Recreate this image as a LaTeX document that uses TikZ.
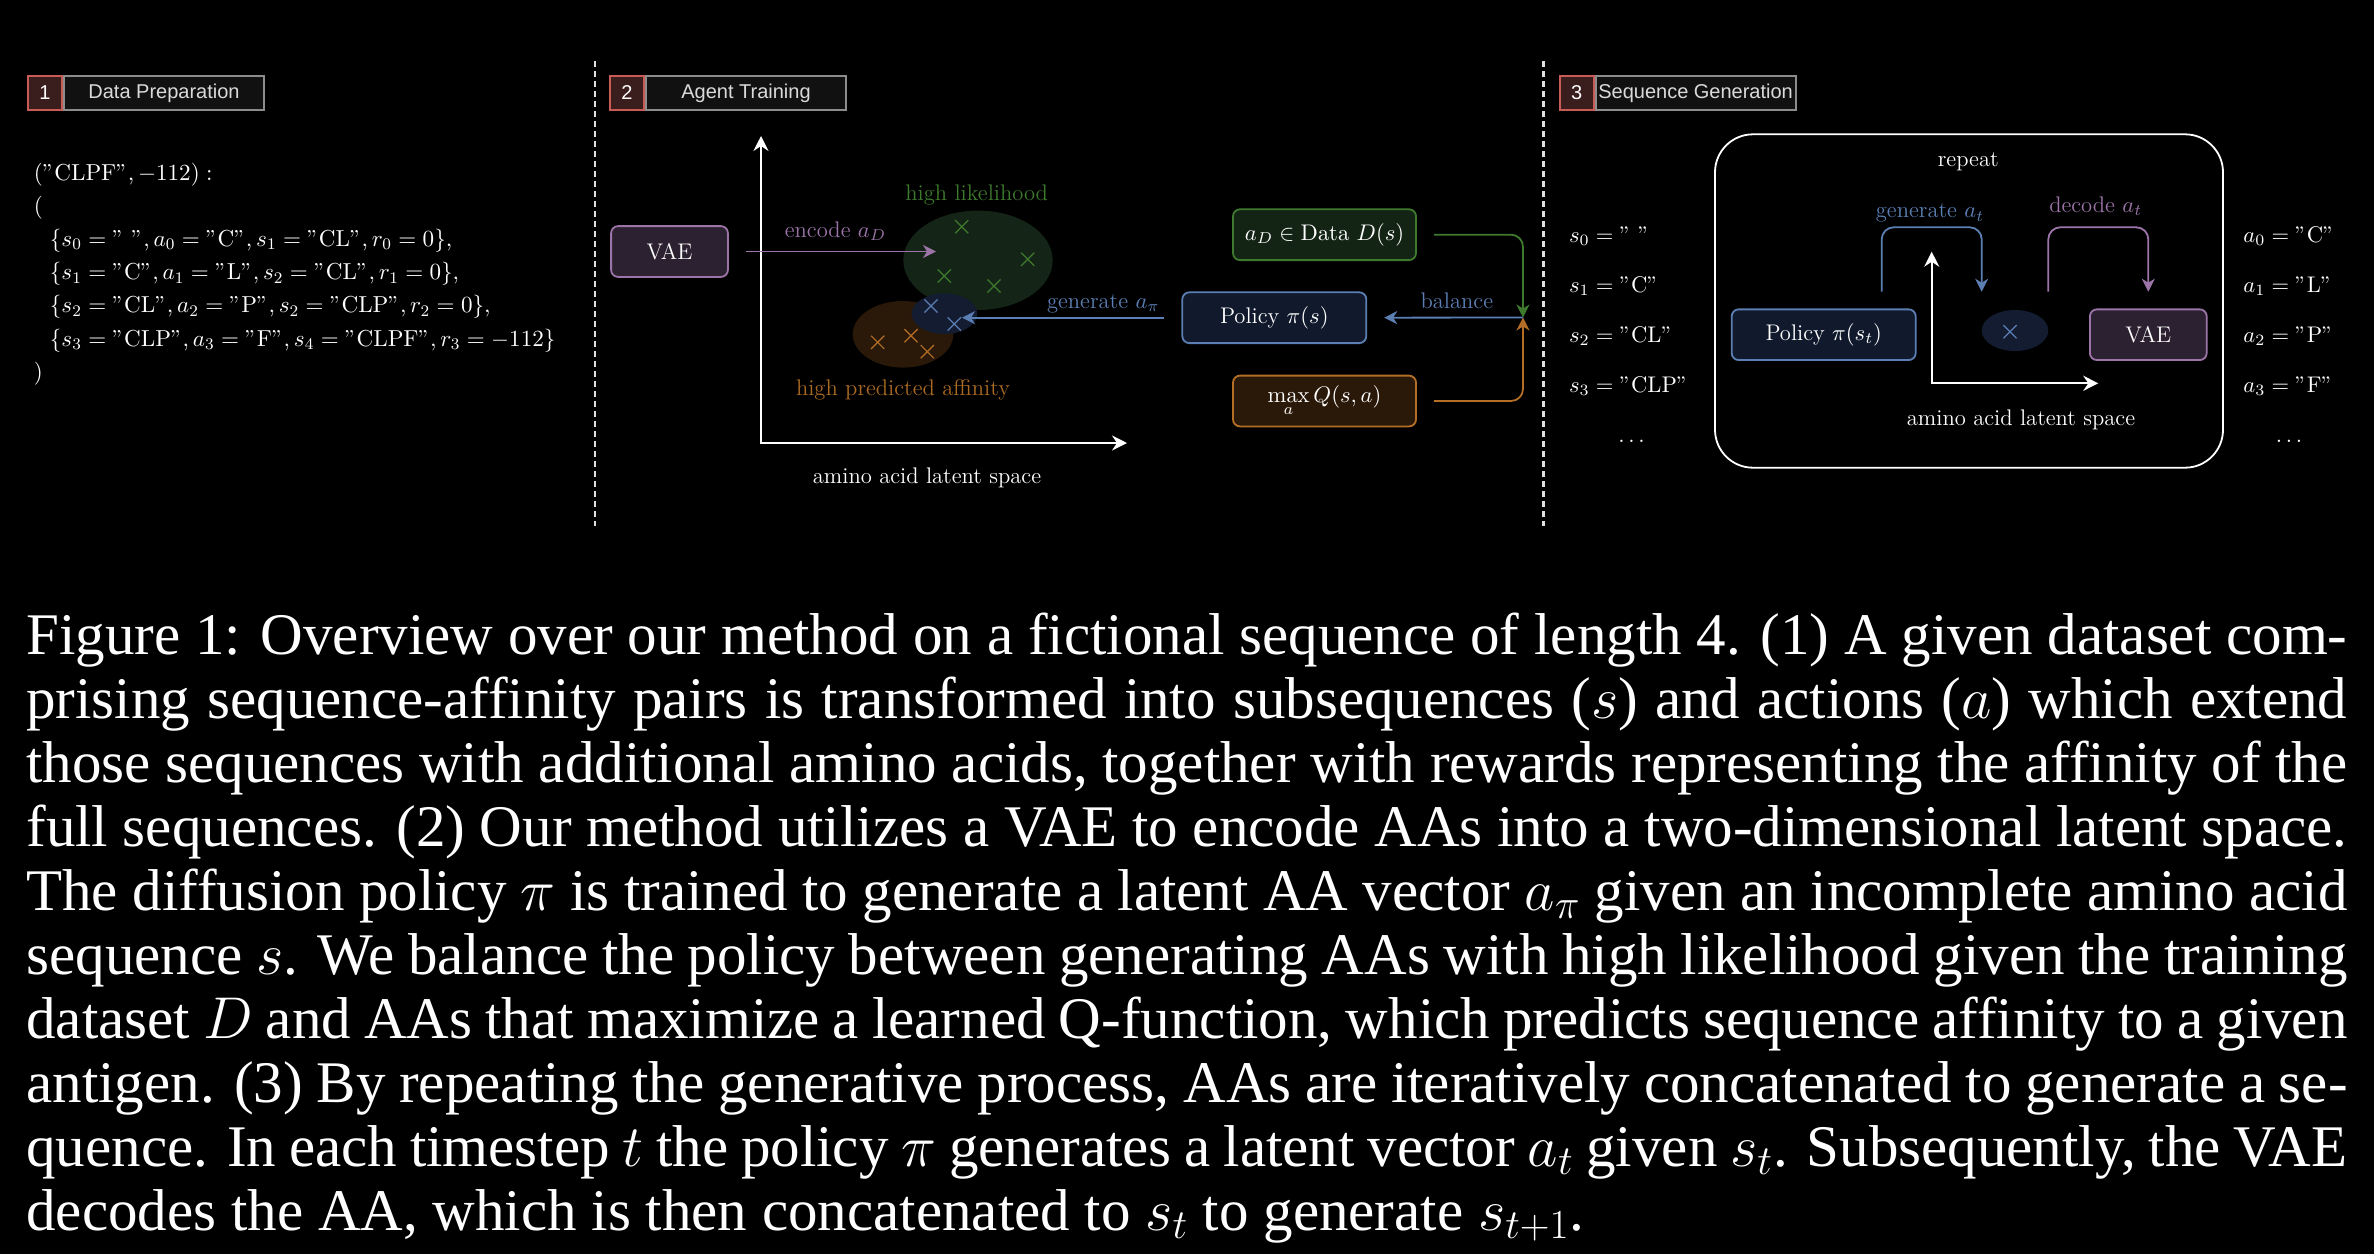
\RequirePackage{fix-cm}
\documentclass[tikz,border=0pt]{standalone}
\usepackage[no-math]{fontspec}
\usepackage{graphicx}
\usetikzlibrary{arrows.meta,shapes.geometric,shapes.misc}
\newfontfamily\hdrfont{Liberation Sans}
\newfontfamily\capfont{Liberation Serif}
\newcommand\dgmfont{\fontsize{11.3}{13.5}\selectfont}
\definecolor{hred}{HTML}{C95B57}
\definecolor{hredfill}{HTML}{3A1D1D}
\definecolor{hgray}{HTML}{8C8C8C}
\definecolor{hgrayfill}{HTML}{111111}
\definecolor{htext}{HTML}{DADADA}
\definecolor{sepc}{HTML}{E0E0E0}
\definecolor{pur}{HTML}{9C74A8}
\definecolor{purfill}{HTML}{2C2131}
\definecolor{grn}{HTML}{3E7A2E}
\definecolor{grnfill}{HTML}{132314}
\definecolor{grnell}{HTML}{142416}
\definecolor{blu}{HTML}{5B7FB3}
\definecolor{blufill}{HTML}{111A2C}
\definecolor{bluell}{HTML}{131C30}
\definecolor{org}{HTML}{B46E26}
\definecolor{orgfill}{HTML}{2A1808}
\definecolor{orgell}{HTML}{2A1909}
\definecolor{orgtext}{HTML}{AA6A22}
\tikzset{
  wtip/.tip={Stealth[length=7.5pt,width=7.5pt,inset=2.5pt]},
  ctip/.tip={Stealth[length=6.5pt,width=6.5pt,inset=2pt]},
  hnum/.style={draw=hred, fill=hredfill, line width=1pt, minimum width=17pt, minimum height=17pt, inner sep=0pt, font=\hdrfont\fontsize{10}{12}\selectfont, text=white},
  hlab/.style={draw=hgray, fill=hgrayfill, line width=1pt, minimum width=100pt, minimum height=17pt, inner sep=0pt, font=\hdrfont\fontsize{10}{12}\selectfont, text=htext},
  sep/.style={draw=sepc, line width=1.1pt, dash pattern=on 3pt off 2pt},
  dbox/.style={rounded corners=3.5pt, line width=0.9pt, inner sep=0pt, font=\dgmfont, text=white, minimum height=25.4pt},
  vaebox/.style={dbox, draw=pur, fill=purfill, minimum width=58.4pt},
  polbox/.style={dbox, draw=blu, fill=blufill, minimum width=92pt},
  datbox/.style={dbox, draw=grn, fill=grnfill, minimum width=91.5pt},
  qbox/.style={dbox, draw=org, fill=orgfill, minimum width=91.5pt},
  lbl/.style={inner sep=0pt, font=\dgmfont, text=white},
  cloud/.style={ellipse, inner sep=0pt, draw=none},
  xmark/.style={cross out, draw=#1, minimum size=6pt, inner sep=0pt, line width=0.6pt},
  axis/.style={draw=white, line width=1pt, wtip-wtip},
  cline/.style={draw=#1, line width=0.9pt, -ctip},
  bigbox/.style={draw=white, line width=0.9pt, rounded corners=19pt, minimum width=254pt, minimum height=166.7pt, inner sep=0pt},
}
\begin{document}
\begin{tikzpicture}[x=0.5pt,y=-0.5pt]
\path[use as bounding box] (0,0) rectangle (2374,1254);
\fill[black] (0,0) rectangle (2374,1254);

% separators
\coordinate (s1t) at (595,61);
\coordinate (s1b) at (595,526);
\coordinate (s2t) at (1543.5,61);
\coordinate (s2b) at (1543.5,526);
\draw[sep] (s1t) -- (s1b);
\draw[sep] (s2t) -- (s2b);

% headers
\node[hlab, anchor=west] (h1) at (63,93) {Data Preparation};
\node[hnum, anchor=east] (n1) at (h1.west) {1};
\node[hlab, anchor=west] (h2) at (645,93) {Agent Training};
\node[hnum, anchor=east] (n2) at (h2.west) {2};
\node[hlab, anchor=west] (h3) at (1594.6,93) {Sequence Generation};
\node[hnum, anchor=east] (n3) at (h3.west) {3};

% section 1
\node[lbl, anchor=base west] (data) at (33.5,180) {\parbox[t]{300pt}{\fontsize{11.55}{16.6}\selectfont
$("\mathrm{CLPF}", -112):$\\
$($\\
\hspace*{8pt}$\{s_0 = "\ ", a_0 = "\mathrm{C}", s_1 = "\mathrm{CL}", r_0 = 0\},$\\
\hspace*{8pt}$\{s_1 = "\mathrm{C}", a_1 = "\mathrm{L}", s_2 = "\mathrm{CL}", r_1 = 0\},$\\
\hspace*{8pt}$\{s_2 = "\mathrm{CL}", a_2 = "\mathrm{P}", s_2 = "\mathrm{CLP}", r_2 = 0\},$\\
\hspace*{8pt}$\{s_3 = "\mathrm{CLP}", a_3 = "\mathrm{F}", s_4 = "\mathrm{CLPF}", r_3 = -112\}$\\
$)$}};

% section 2
\node[cloud, fill=grnell, minimum width=74.7pt, minimum height=49.7pt] (ellG) at (978,260.3) {};
\node[cloud, fill=orgell, minimum width=50.3pt, minimum height=33.3pt] (ellO) at (903,334.3) {};
\node[cloud, fill=bluell, minimum width=32.8pt, minimum height=20.3pt] (ellB) at (944.5,313.7) {};
\node[xmark=grn] (g1) at (961.7,226.7) {};
\node[xmark=grn] (g2) at (1027.7,259.3) {};
\node[xmark=grn] (g3) at (944.3,276) {};
\node[xmark=grn] (g4) at (994,286) {};
\node[xmark=blu] (b1) at (931,306) {};
\node[xmark=blu] (b2) at (954.3,324) {};
\node[xmark=org] (o1) at (877.7,342.3) {};
\node[xmark=org] (o2) at (911,335.7) {};
\node[xmark=org] (o3) at (927.3,351.7) {};
\node[lbl, anchor=base, text=grn] (tG) at (976.7,200.5) {high likelihood};
\node[lbl, anchor=base, text=orgtext] (tO) at (903,395) {high predicted affinity};

\coordinate (ax2y) at (761,136);
\coordinate (ax2o) at (761,443);
\coordinate (ax2x) at (1127,443);
\draw[axis] (ax2y) -- (ax2o) -- (ax2x);
\node[lbl, anchor=base] (lat2) at (927,483) {amino acid latent space};

\node[vaebox] (vae2) at (669.5,251.5) {VAE};
\coordinate (etip) at (936,251.5);
\draw[cline=pur, shorten <=8.5pt] (vae2.east) -- (etip);
\node[lbl, anchor=base, text=pur] (tenc) at (835.5,237.5) {encode $a_D$};

\node[datbox] (dat) at (1324.5,234.7) {$a_D \in \mathrm{Data}\ D(s)$};
\node[polbox] (pol2) at (1274.3,317.7) {Policy $\pi(s)$};
\node[qbox] (mq) at (1324.5,401) {$\max\limits_{a} Q(s,a)$};
\coordinate (J) at (1523,317.5);
\coordinate (gtip) at (962,317.7);
\draw[cline=blu, shorten <=8.5pt] (pol2.west) -- (gtip);
\node[lbl, anchor=base, text=blu] (tgen) at (1103.3,308.3) {generate $a_\pi$};
\draw[cline=grn, rounded corners=6pt, shorten <=8.5pt] (dat.east) -| (J);
\draw[cline=org, rounded corners=6pt, shorten <=8.5pt] (mq.east) -| (J);
\draw[cline=blu, shorten >=8.5pt] (J) -- (pol2.east);
\node[lbl, anchor=base, text=blu] (tbal) at (1456.8,308.3) {balance};

% section 3
\node[bigbox] (rep) at (1969,301) {};
\node[lbl, anchor=base] (trep) at (1968.3,166.7) {repeat};
\node[polbox, minimum height=25.35pt] (pol3) at (1823.7,334.7) {Policy $\pi(s_t)$};
\node[vaebox, minimum height=25.35pt] (vae3) at (2148.3,334.7) {VAE};
\node[cloud, fill=bluell, minimum width=33.3pt, minimum height=20.5pt] (ell3) at (2015,330.5) {};
\node[xmark=blu] (c3) at (2010,331.7) {};
\coordinate (ax3y) at (1931.7,251.7);
\coordinate (ax3o) at (1931.7,383.3);
\coordinate (ax3x) at (2098.3,383.3);
\draw[axis] (ax3y) -- (ax3o) -- (ax3x);
\node[lbl, anchor=base] (lat3) at (2021,425) {amino acid latent space};
\coordinate (g3s) at (1881.7,291.7);
\coordinate (g3e) at (1981.7,291.7);
\coordinate (d3s) at (2048.3,291.7);
\coordinate (d3e) at (2148.3,291.7);
\draw[cline=blu, rounded corners=6pt] (g3s) -- ++(0,-64.4) -| (g3e);
\draw[cline=pur, rounded corners=6pt] (d3s) -- ++(0,-64.4) -| (d3e);
\node[lbl, anchor=base, text=blu] (tgen3) at (1930,217.7) {generate $a_t$};
\node[lbl, anchor=base, text=pur] (tdec3) at (2095.7,212.3) {decode $a_t$};

\node[lbl, anchor=base west] (s0) at (1568.7,242) {$s_0 = "\ "$};
\node[lbl, anchor=base west] (s1) at (1568.7,292) {$s_1 = "\mathrm{C}"$};
\node[lbl, anchor=base west] (s2) at (1568.7,342) {$s_2 = "\mathrm{CL}"$};
\node[lbl, anchor=base west] (s3) at (1568.7,392) {$s_3 = "\mathrm{CLP}"$};
\node[lbl, anchor=base] (sd) at (1631.5,442) {$\dots$};
\node[lbl, anchor=base west] (a0) at (2243,242) {$a_0 = "\mathrm{C}"$};
\node[lbl, anchor=base west] (a1) at (2243,292) {$a_1 = "\mathrm{L}"$};
\node[lbl, anchor=base west] (a2) at (2243,342) {$a_2 = "\mathrm{P}"$};
\node[lbl, anchor=base west] (a3) at (2243,392) {$a_3 = "\mathrm{F}"$};
\node[lbl, anchor=base] (ad) at (2289,442) {$\dots$};

% caption
\node[lbl, anchor=base west] (cap) at (26,654) {\parbox[t]{1160.5pt}{\capfont\fontsize{29.5}{32}\selectfont
\makebox[1160.5pt][s]{Figure 1: Overview over our method on a fictional sequence of length 4. (1) A given dataset com-}\\
\makebox[1160.5pt][s]{prising sequence-affinity pairs is transformed into subsequences ($s$) and actions ($a$) which extend}\\
\makebox[1160.5pt][s]{those sequences with additional amino acids, together with rewards representing the affinity of the}\\
\makebox[1160.5pt][s]{full sequences. (2) Our method utilizes a VAE to encode AAs into a two-dimensional latent space.}\\
\makebox[1160.5pt][s]{The diffusion policy $\pi$ is trained to generate a latent AA vector $a_\pi$ given an incomplete amino acid}\\
\makebox[1160.5pt][s]{sequence $s$. We balance the policy between generating AAs with high likelihood given the training}\\
\makebox[1160.5pt][s]{dataset $D$ and AAs that maximize a learned Q-function, which predicts sequence affinity to a given}\\
\makebox[1160.5pt][s]{antigen. (3) By repeating the generative process, AAs are iteratively concatenated to generate a se-}\\
\makebox[1160.5pt][s]{quence. In each timestep $t$ the policy $\pi$ generates a latent vector $a_t$ given $s_t$. Subsequently, the VAE}\\
\makebox[1160.5pt][l]{decodes the AA, which is then concatenated to $s_t$ to generate $s_{t+1}$.}}};
\end{tikzpicture}
\end{document}
